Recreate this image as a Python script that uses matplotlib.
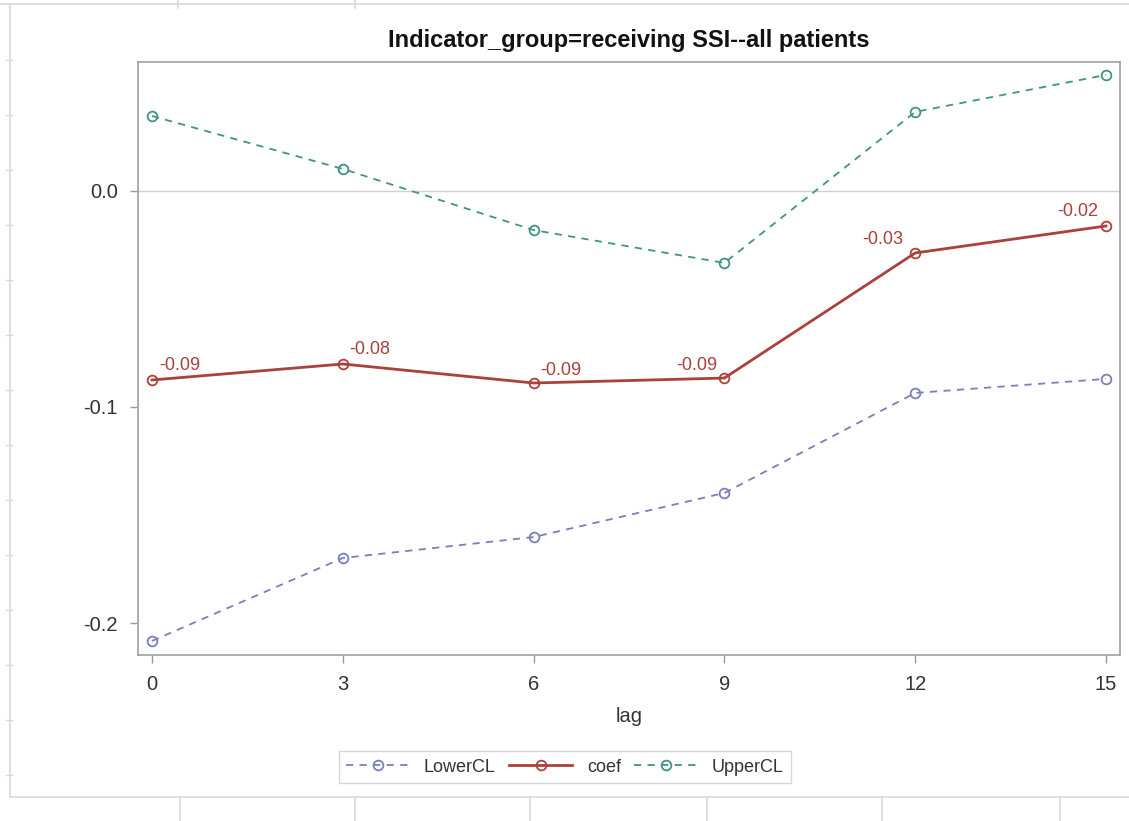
import matplotlib
matplotlib.use("Agg")
import matplotlib.pyplot as plt
from matplotlib.lines import Line2D

plt.rcParams['font.family'] = ['Liberation Sans', 'DejaVu Sans']

lag = [0, 3, 6, 9, 12, 15]
lower_cl = [-0.2083, -0.1699, -0.1602, -0.1398, -0.0935, -0.0870]
coef = [-0.0875, -0.0801, -0.0889, -0.0866, -0.0287, -0.0162]
upper_cl = [0.0347, 0.0102, -0.0181, -0.0333, 0.0366, 0.0537]
coef_labels = ["-0.09", "-0.08", "-0.09", "-0.09", "-0.03", "-0.02"]
x_ticks = [0, 3, 6, 9, 12, 15]
y_ticks = [0.0, -0.1, -0.2]
y_ticklabels = ["0.0", "-0.1", "-0.2"]
title = "Indicator_group=receiving SSI--all patients"

W, H = 1129, 821
fig = plt.figure(figsize=(W / 100, H / 100), dpi=100)

# background frame of the screenshot
fc = '#d9d9d9'
def fl(x0, y0, x1, y1, lw=1.2, c=fc):
    fig.add_artist(Line2D([x0 / W, x1 / W], [1 - y0 / H, 1 - y1 / H], color=c, lw=lw,
                          transform=fig.transFigure))
fl(0, 4, W, 4)
fl(10, 4, 10, 797)
fl(10, 797, W, 797)
for xv in [180, 355, 530, 707, 882, 1060]:
    fl(xv, 797, xv, H)
for xv in [178, 355]:
    fl(xv, 0, xv, 8)
for yv in range(60, 790, 55):
    fl(6, yv, 12, yv, lw=1.0)

ax = fig.add_axes([138 / W, 1 - 655 / H, 982 / W, 593 / H])

c_low = '#7b7fb8'
c_coef = '#a8423a'
c_up = '#3f9484'

ax.axhline(0, color='#d0d0d0', lw=1.0, zorder=1)

ax.plot(lag, lower_cl, color=c_low, ls=(0, (4, 3.5)), lw=1.3, marker='o', ms=7,
        mfc='none', mec=c_low, mew=1.3, label='LowerCL', zorder=3)
ax.plot(lag, coef, color=c_coef, ls='-', lw=2.0, marker='o', ms=7,
        mfc='none', mec=c_coef, mew=1.3, label='coef', zorder=4)
ax.plot(lag, upper_cl, color=c_up, ls=(0, (4, 3.5)), lw=1.3, marker='o', ms=7,
        mfc='none', mec=c_up, mew=1.3, label='UpperCL', zorder=3)

offsets = [(28, 14), (27, 15), (27, 13), (-28, 13), (-32, 13), (-28, 14)]
for xv, yv, txt, off in zip(lag, coef, coef_labels, offsets):
    ax.annotate(txt, (xv, yv), xytext=off, textcoords='offset pixels',
                ha='center', va='center', fontsize=13, color=c_coef)

ax.set_xlim(-0.22, 15.22)
ax.set_ylim(-0.2148, 0.0597)
ax.set_xticks(x_ticks)
ax.set_yticks(y_ticks)
ax.set_yticklabels(y_ticklabels)
ax.tick_params(axis='both', colors='#999999', labelcolor='#333333', labelsize=14.5,
               length=6, width=1, pad=8.5)
for s in ax.spines.values():
    s.set_color('#a0a0a0')
    s.set_linewidth(1.2)

ax.set_xlabel('lag', fontsize=14.5, color='#333333', labelpad=9)
fig.text(629 / W, 1 - 40 / H, title, ha='center', va='center', fontsize=17,
         fontweight='bold', color='#111111')

leg = fig.legend(loc='center', bbox_to_anchor=(565 / W, 1 - 767 / H), ncol=3,
                 fontsize=13, frameon=True, fancybox=False, handlelength=3.5,
                 columnspacing=0.75, handletextpad=0.8, borderpad=0.4)
leg.get_frame().set_edgecolor('#cccccc')
leg.get_frame().set_linewidth(1.0)
for t in leg.get_texts():
    t.set_color('#333333')

fig.savefig('out.png', dpi=100)
